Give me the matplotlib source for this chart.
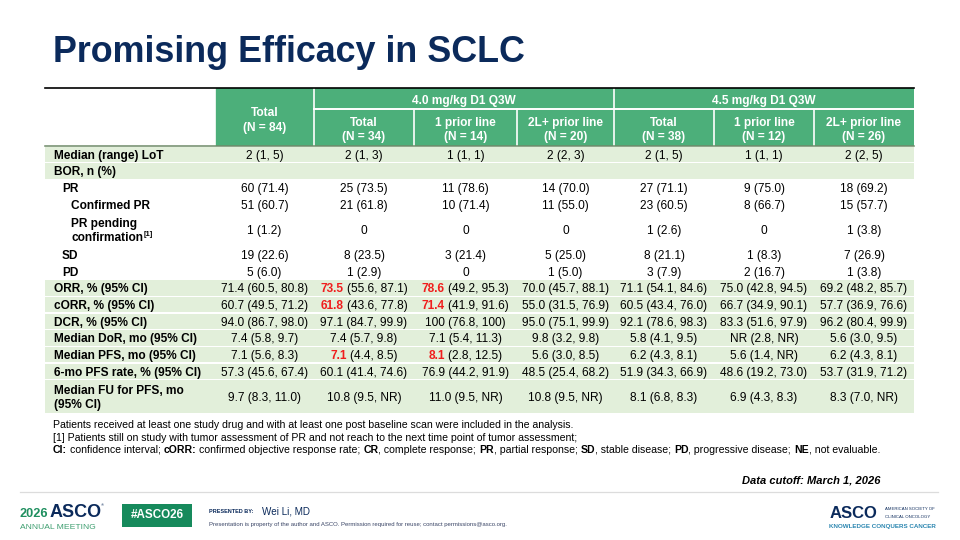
import matplotlib
matplotlib.use('Agg')
import matplotlib.pyplot as plt
from matplotlib.patches import Rectangle

FONT = 'Liberation Sans'
plt.rcParams['font.family'] = [FONT, 'DejaVu Sans']

# ---------------- data ----------------
title = "Promising Efficacy in SCLC"
overall_header = ["Total", "(N = 84)"]
dose_groups = ["4.0 mg/kg D1 Q3W", "4.5 mg/kg D1 Q3W"]
subgroup_names = ["Total", "1 prior line", "2L+ prior line"]
n_dose_40 = [34, 14, 20]
n_dose_45 = [38, 12, 26]

row_labels = [
    ["Median (range) LoT"],
    ["BOR, n (%)"],
    ["PR"],
    ["Confirmed PR"],
    ["PR pending", "confirmation"],
    ["SD"],
    ["PD"],
    ["ORR, % (95% CI)"],
    ["cORR, % (95% CI)"],
    ["DCR, % (95% CI)"],
    ["Median DoR, mo (95% CI)"],
    ["Median PFS, mo (95% CI)"],
    ["6-mo PFS rate, % (95% CI)"],
    ["Median FU for PFS, mo", "(95% CI)"],
]
row_indent = [0, 0, 1, 2, 2, 1, 1, 0, 0, 0, 0, 0, 0, 0]
row_shaded = [1, 1, 0, 0, 0, 0, 0, 1, 1, 1, 1, 1, 1, 1]
footnote_ref = {4: "[1]"}

lot = ["2 (1, 5)", "2 (1, 3)", "1 (1, 1)", "2 (2, 3)", "2 (1, 5)", "1 (1, 1)", "2 (2, 5)"]
bor = ["", "", "", "", "", "", ""]
pr = ["60 (71.4)", "25 (73.5)", "11 (78.6)", "14 (70.0)", "27 (71.1)", "9 (75.0)", "18 (69.2)"]
confirmed_pr = ["51 (60.7)", "21 (61.8)", "10 (71.4)", "11 (55.0)", "23 (60.5)", "8 (66.7)", "15 (57.7)"]
pr_pending = ["1 (1.2)", "0", "0", "0", "1 (2.6)", "0", "1 (3.8)"]
sd = ["19 (22.6)", "8 (23.5)", "3 (21.4)", "5 (25.0)", "8 (21.1)", "1 (8.3)", "7 (26.9)"]
pd_ = ["5 (6.0)", "1 (2.9)", "0", "1 (5.0)", "3 (7.9)", "2 (16.7)", "1 (3.8)"]
orr = ["71.4 (60.5, 80.8)", "73.5 (55.6, 87.1)", "78.6 (49.2, 95.3)", "70.0 (45.7, 88.1)",
       "71.1 (54.1, 84.6)", "75.0 (42.8, 94.5)", "69.2 (48.2, 85.7)"]
corr = ["60.7 (49.5, 71.2)", "61.8 (43.6, 77.8)", "71.4 (41.9, 91.6)", "55.0 (31.5, 76.9)",
        "60.5 (43.4, 76.0)", "66.7 (34.9, 90.1)", "57.7 (36.9, 76.6)"]
dcr = ["94.0 (86.7, 98.0)", "97.1 (84.7, 99.9)", "100 (76.8, 100)", "95.0 (75.1, 99.9)",
       "92.1 (78.6, 98.3)", "83.3 (51.6, 97.9)", "96.2 (80.4, 99.9)"]
dor = ["7.4 (5.8, 9.7)", "7.4 (5.7, 9.8)", "7.1 (5.4, 11.3)", "9.8 (3.2, 9.8)",
       "5.8 (4.1, 9.5)", "NR (2.8, NR)", "5.6 (3.0, 9.5)"]
pfs = ["7.1 (5.6, 8.3)", "7.1 (4.4, 8.5)", "8.1 (2.8, 12.5)", "5.6 (3.0, 8.5)",
       "6.2 (4.3, 8.1)", "5.6 (1.4, NR)", "6.2 (4.3, 8.1)"]
pfs6 = ["57.3 (45.6, 67.4)", "60.1 (41.4, 74.6)", "76.9 (44.2, 91.9)", "48.5 (25.4, 68.2)",
        "51.9 (34.3, 66.9)", "48.6 (19.2, 73.0)", "53.7 (31.9, 71.2)"]
fu = ["9.7 (8.3, 11.0)", "10.8 (9.5, NR)", "11.0 (9.5, NR)", "10.8 (9.5, NR)",
      "8.1 (6.8, 8.3)", "6.9 (4.3, 8.3)", "8.3 (7.0, NR)"]
cells = [lot, bor, pr, confirmed_pr, pr_pending, sd, pd_, orr, corr, dcr, dor, pfs, pfs6, fu]
highlight = {(7, 1), (7, 2), (8, 1), (8, 2), (11, 1), (11, 2)}

footnote_1 = "Patients received at least one study drug and with at least one post baseline scan were included in the analysis."
footnote_2 = "[1] Patients still on study with tumor assessment of PR and not reach to the next time point of tumor assessment;"
abbrev = [("CI:", True), (" confidence interval; ", False), ("cORR:", True),
          (" confirmed objective response rate; ", False), ("CR", True), (", complete response; ", False),
          ("PR", True), (", partial response; ", False), ("SD", True), (", stable disease; ", False),
          ("PD", True), (", progressive disease; ", False), ("NE", True), (", not evaluable.", False)]
cutoff = "Data cutoff: March 1, 2026"
presenter = "Wei Li, MD"
disclaimer = "Presentation is property of the author and ASCO. Permission required for reuse; contact permissions@asco.org."

# ---------------- style / layout ----------------
NAVY = '#0b2a5b'
HEAD_GREEN = '#4caf7a'
LIGHT_GREEN = '#e2efda'
RED = '#f01e1e'
FS = 8.6

fig = plt.figure(figsize=(9.6, 5.4), dpi=100)
ax = fig.add_axes([0, 0, 1, 1])
ax.set_xlim(0, 960)
ax.set_ylim(540, 0)
ax.axis('off')
renderer = fig.canvas.get_renderer()


def raw_width(s, **kw):
    if not s:
        return 0.0
    t = ax.text(0, 0, s, **kw)
    w = t.get_window_extent(renderer).width
    t.remove()
    return w


def advance(s, **kw):
    # advance width of s, including spaces, measured between two bar glyphs
    return raw_width("|" + s + "|", **kw) - raw_width("||", **kw)


def draw_runs(x, y, runs, ha='left'):
    """runs: list of (text, kwargs). y is baseline (snapped to a whole pixel)."""
    y = round(y)
    advs = [advance(s, **kw) for s, kw in runs]
    total = sum(advs)
    if ha == 'center':
        cx = x - total / 2
    elif ha == 'right':
        cx = x - total
    else:
        cx = x
    for (s, kw), a in zip(runs, advs):
        core = s.lstrip(' ')
        lead = advance(s[:len(s) - len(core)], **kw) if core != s else 0.0
        if core.strip():
            ax.text(cx + lead, y, core, ha='left', va='baseline', **kw)
        cx += a


def base(yc, fs=FS):
    return yc + 0.716 * fs * 100 / 72 / 2


# title
ax.text(53, 62, title, fontsize=25.8, fontweight='bold', color=NAVY, va='baseline', ha='left')

# table geometry
col_edges = [45, 215, 314, 414, 517, 614, 714, 814, 914]
top, sub_line, head_bot = 88, 109, 146
unit_h = 16.7
row_units = [len(l) for l in row_labels]

# header background
ax.add_patch(Rectangle((col_edges[1], top), col_edges[-1] - col_edges[1], head_bot - top,
                       facecolor=HEAD_GREEN, edgecolor='none', zorder=1))
ax.plot([col_edges[2], col_edges[-1]], [sub_line, sub_line], color='white', lw=1.4, zorder=2)
for xe in (col_edges[1], col_edges[2], col_edges[5]):
    ax.plot([xe, xe], [top, head_bot], color='white', lw=1.2, zorder=2)
for xe in (col_edges[3], col_edges[4], col_edges[6], col_edges[7]):
    ax.plot([xe, xe], [sub_line, head_bot], color='white', lw=1.2, zorder=2)
ax.plot([col_edges[0], col_edges[-1]], [top, top], color='black', lw=1.2, zorder=3)

hkw = dict(fontsize=FS, fontweight='bold', color='white', zorder=4)
cx0 = (col_edges[1] + col_edges[2]) / 2
ax.text(cx0, base(112), overall_header[0], ha='center', va='baseline', **hkw)
ax.text(cx0, base(126.5), overall_header[1], ha='center', va='baseline', **hkw)
for g, (gname, ns) in enumerate(zip(dose_groups, [n_dose_40, n_dose_45])):
    c0 = 2 + 3 * g
    ax.text((col_edges[c0] + col_edges[c0 + 3]) / 2, base(99.5), gname, ha='center', va='baseline', **hkw)
    for k, (nm, n) in enumerate(zip(subgroup_names, ns)):
        cx = (col_edges[c0 + k] + col_edges[c0 + k + 1]) / 2
        ax.text(cx, base(122), nm, ha='center', va='baseline', **hkw)
        ax.text(cx, base(136), f"(N = {n})", ha='center', va='baseline', **hkw)

# body
y = head_bot
indent_x = [54, 62, 71]
lab_kw = dict(fontsize=FS, fontweight='bold', color='black', zorder=4)
val_kw = dict(fontsize=FS, color='black', zorder=4)
red_kw = dict(fontsize=FS, fontweight='bold', color=RED, zorder=4)
for r, labels in enumerate(row_labels):
    h = unit_h * row_units[r]
    if row_shaded[r]:
        ax.add_patch(Rectangle((col_edges[0], y + 0.6), col_edges[-1] - col_edges[0], h - 1.2,
                               facecolor=LIGHT_GREEN, edgecolor='none', zorder=1))
    yc = y + h / 2
    nl = len(labels)
    for i, lab in enumerate(labels):
        ly = yc + (i - (nl - 1) / 2) * 14
        xl = indent_x[row_indent[r]]
        ax.text(xl, base(ly), lab, ha='left', va='baseline', **lab_kw)
        if i == nl - 1 and r in footnote_ref:
            w = raw_width(lab, **lab_kw)
            ax.text(xl + w + 0.5, base(ly) - 4.8, footnote_ref[r], ha='left', va='baseline',
                    fontsize=5.5, fontweight='bold', color='black', zorder=4)
    for c, val in enumerate(cells[r]):
        if not val:
            continue
        cx = (col_edges[c + 1] + col_edges[c + 2]) / 2
        if (r, c) in highlight:
            head, tail = val.split(' ', 1)
            draw_runs(cx, base(yc), [(head, red_kw), (' ' + tail, val_kw)], ha='center')
        else:
            ax.text(cx, base(yc), val, ha='center', va='baseline', **val_kw)
    y += h

# header bottom rule
ax.plot([col_edges[0], col_edges[-1]], [head_bot, head_bot], color='#6f8a68', lw=1.1, zorder=3)

# footnotes
FN = 7.55
ax.text(53, base(424, FN), footnote_1, fontsize=FN, va='baseline', ha='left', color='black')
ax.text(53, base(437, FN), footnote_2, fontsize=FN, va='baseline', ha='left', color='black')
draw_runs(53, base(449.5, FN), [(s, dict(fontsize=FN, fontweight='bold' if b else 'normal', color='black'))
                                for s, b in abbrev])

ax.text(881, base(480, 8.0), cutoff, fontsize=8.0, fontweight='bold', fontstyle='italic',
        ha='right', va='baseline', color='black')

# footer
ax.plot([20, 938], [492, 492], color='#dcdcdc', lw=0.9)
GREEN_LOGO = '#1f8f5f'
ax.text(20, 517, "2026", fontsize=9.2, fontweight='bold', color=GREEN_LOGO, va='baseline')
ax.text(50, 517, "ASCO", fontsize=13, fontweight='bold', color=NAVY, va='baseline')
ax.text(101, 506, "®", fontsize=3, color=NAVY, va='baseline')
ax.text(20, 529, "ANNUAL MEETING", fontsize=6.1, color='#3f9f70', va='baseline')
ax.add_patch(Rectangle((122, 504), 70, 23, facecolor='#168a5c', edgecolor='none'))
ax.text(157, 515.5, "#ASCO26", fontsize=8.4, fontweight='bold', color='white', ha='center', va='center')
ax.text(209, 513, "PRESENTED BY:", fontsize=4.0, fontweight='bold', color=NAVY, va='baseline')
ax.text(262, 514, presenter, fontsize=7.1, color=NAVY, va='baseline')
ax.text(209, 526, disclaimer, fontsize=4.3, color='#3a4566', va='baseline')
ax.text(830, 518, "ASCO", fontsize=12, fontweight='bold', color=NAVY, va='baseline')
ax.text(885, 509.5, "AMERICAN SOCIETY OF", fontsize=3.1, color=NAVY, va='baseline')
ax.text(885, 518, "CLINICAL ONCOLOGY", fontsize=3.1, color=NAVY, va='baseline')
ax.text(829, 528, "KNOWLEDGE CONQUERS CANCER", fontsize=4.5, fontweight='bold', color='#2b86b0', va='baseline')

fig.savefig('out.png', dpi=100, facecolor='white')
